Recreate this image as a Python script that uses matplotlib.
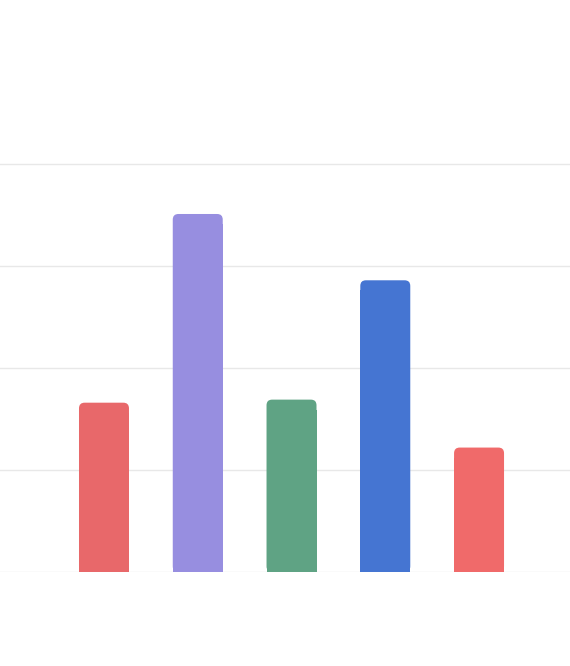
import matplotlib
matplotlib.use("Agg")
import matplotlib.pyplot as plt
from matplotlib.patches import FancyBboxPatch

# values (no labels shown)
positions = [0, 1, 2, 3, 4]
values = [1.66, 3.51, 1.69, 2.86, 1.22]
colors = ['#E8686A', '#978EE0', '#5FA384', '#4575D2', '#F06A6A']
grid_levels = [0, 1, 2, 3, 4]

fig = plt.figure(figsize=(5.70, 6.66), dpi=100)
ax = fig.add_axes([0, 94/666, 1, 572/666])
ax.set_xlim(-1.109, 4.97)
ax.set_ylim(0, 5.608)

for g in grid_levels:
    ax.axhline(g, color='#e8e8e8', lw=1, zorder=0)

w = 0.533
aspect = 93.75 / 102
for x, v, c in zip(positions, values, colors):
    # square bottom part plus rounded top
    ax.bar(x, v - 0.1, width=w, color=c, zorder=2)
    box = FancyBboxPatch((x - w/2, 0), w, v,
                         boxstyle="round,pad=0,rounding_size=0.06",
                         mutation_aspect=aspect, fc=c, ec='none', zorder=2)
    ax.add_patch(box)

ax.axis('off')
fig.savefig('out.png', dpi=100)
